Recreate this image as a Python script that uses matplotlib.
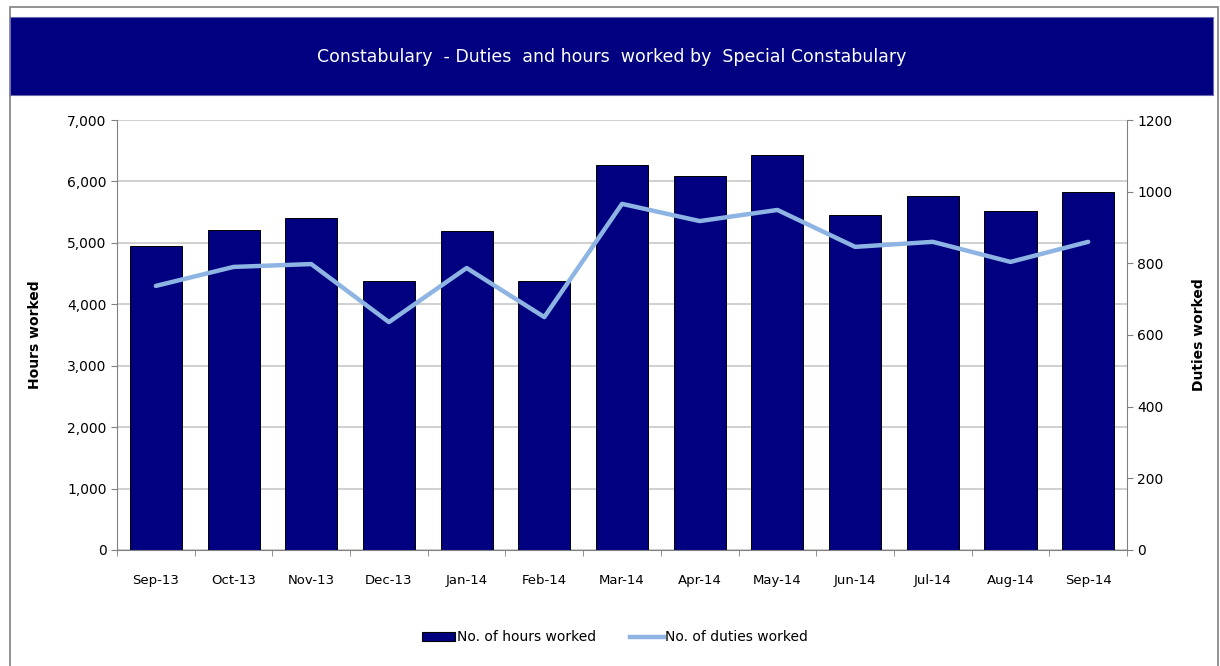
import numpy as np
import matplotlib
matplotlib.use("Agg")
import matplotlib.pyplot as plt
from matplotlib.patches import Rectangle
from matplotlib.lines import Line2D
from matplotlib.ticker import FuncFormatter

# -------------------------
# DATA
# -------------------------
months = ["Sep-13", "Oct-13", "Nov-13", "Dec-13", "Jan-14", "Feb-14", "Mar-14",
          "Apr-14", "May-14", "Jun-14", "Jul-14", "Aug-14", "Sep-14"]
hours = [4950, 5210, 5400, 4380, 5190, 4380, 6270, 6090, 6430, 5450, 5760, 5520, 5830]
duties = [737, 790, 798, 636, 787, 650, 966, 918, 949, 846, 860, 804, 860]

navy = "#000080"
light_blue = "#8DB4E2"

plt.rcParams["font.family"] = ["DejaVu Sans"]

fig = plt.figure(figsize=(12.2, 6.66), dpi=100)

# outer frame + title banner
fig.patches.append(Rectangle((0.0082, -0.01), 0.99, 1.0, transform=fig.transFigure,
                             fill=False, edgecolor="#808080", linewidth=1.2))
fig.patches.append(Rectangle((0.0082, 0.8574), 0.986, 0.1171, transform=fig.transFigure,
                             facecolor=navy, edgecolor="#6a6ab0", linewidth=0.8))
fig.text(0.501, 0.914, "Constabulary  - Duties  and hours  worked by  Special Constabulary",
         color="white", fontsize=12.5, ha="center", va="center")

ax = fig.add_axes([0.0959, 0.1742, 0.8279, 0.6456])
x = np.arange(len(months))

ax.bar(x, hours, width=0.67, color=navy, edgecolor="black", linewidth=0.7, zorder=2)
ax.set_xlim(-0.5, len(months) - 0.5)
ax.set_ylim(0, 7000)
ax.set_yticks(range(0, 7001, 1000))
ax.yaxis.set_major_formatter(FuncFormatter(lambda v, p: f"{int(v):,}"))
ax.yaxis.grid(True, color="#c8c8c8", linewidth=1.2, zorder=0)
ax.set_axisbelow(True)
ax.set_xticks(x)
ax.set_xticklabels(months)
ax.set_xticks(np.arange(-0.5, len(months)), minor=True)
ax.tick_params(axis="x", which="major", length=0, pad=17, labelsize=9.5)
ax.tick_params(axis="x", which="minor", length=4, color="#808080")
ax.tick_params(axis="y", length=4, color="#808080", labelsize=10)
ax.set_ylabel("Hours worked", fontsize=10, fontweight="bold", labelpad=18)
for s in ["top", "right"]:
    ax.spines[s].set_visible(False)
for s in ["left", "bottom"]:
    ax.spines[s].set_color("#808080")

ax2 = ax.twinx()
ax2.plot(x, duties, color=light_blue, linewidth=3.2, solid_capstyle="round", zorder=3)
ax2.set_ylim(0, 1200)
ax2.set_yticks(range(0, 1201, 200))
ax2.tick_params(axis="y", length=4, color="#808080", labelsize=10)
ax2.set_ylabel("Duties worked", fontsize=10, fontweight="bold", labelpad=14)
for s in ["top", "left", "bottom"]:
    ax2.spines[s].set_visible(False)
ax2.spines["right"].set_color("#808080")

handles = [Rectangle((0, 0), 1, 1, facecolor=navy, edgecolor="black", linewidth=0.8),
           Line2D([0], [0], color=light_blue, linewidth=3.2)]
fig.legend(handles, ["No. of hours worked", "No. of duties worked"], loc="center",
           bbox_to_anchor=(0.504, 0.043), ncol=2, frameon=False, fontsize=10,
           handlelength=2.4, handletextpad=0.1, columnspacing=2.5)

fig.savefig("out.png", dpi=100)
